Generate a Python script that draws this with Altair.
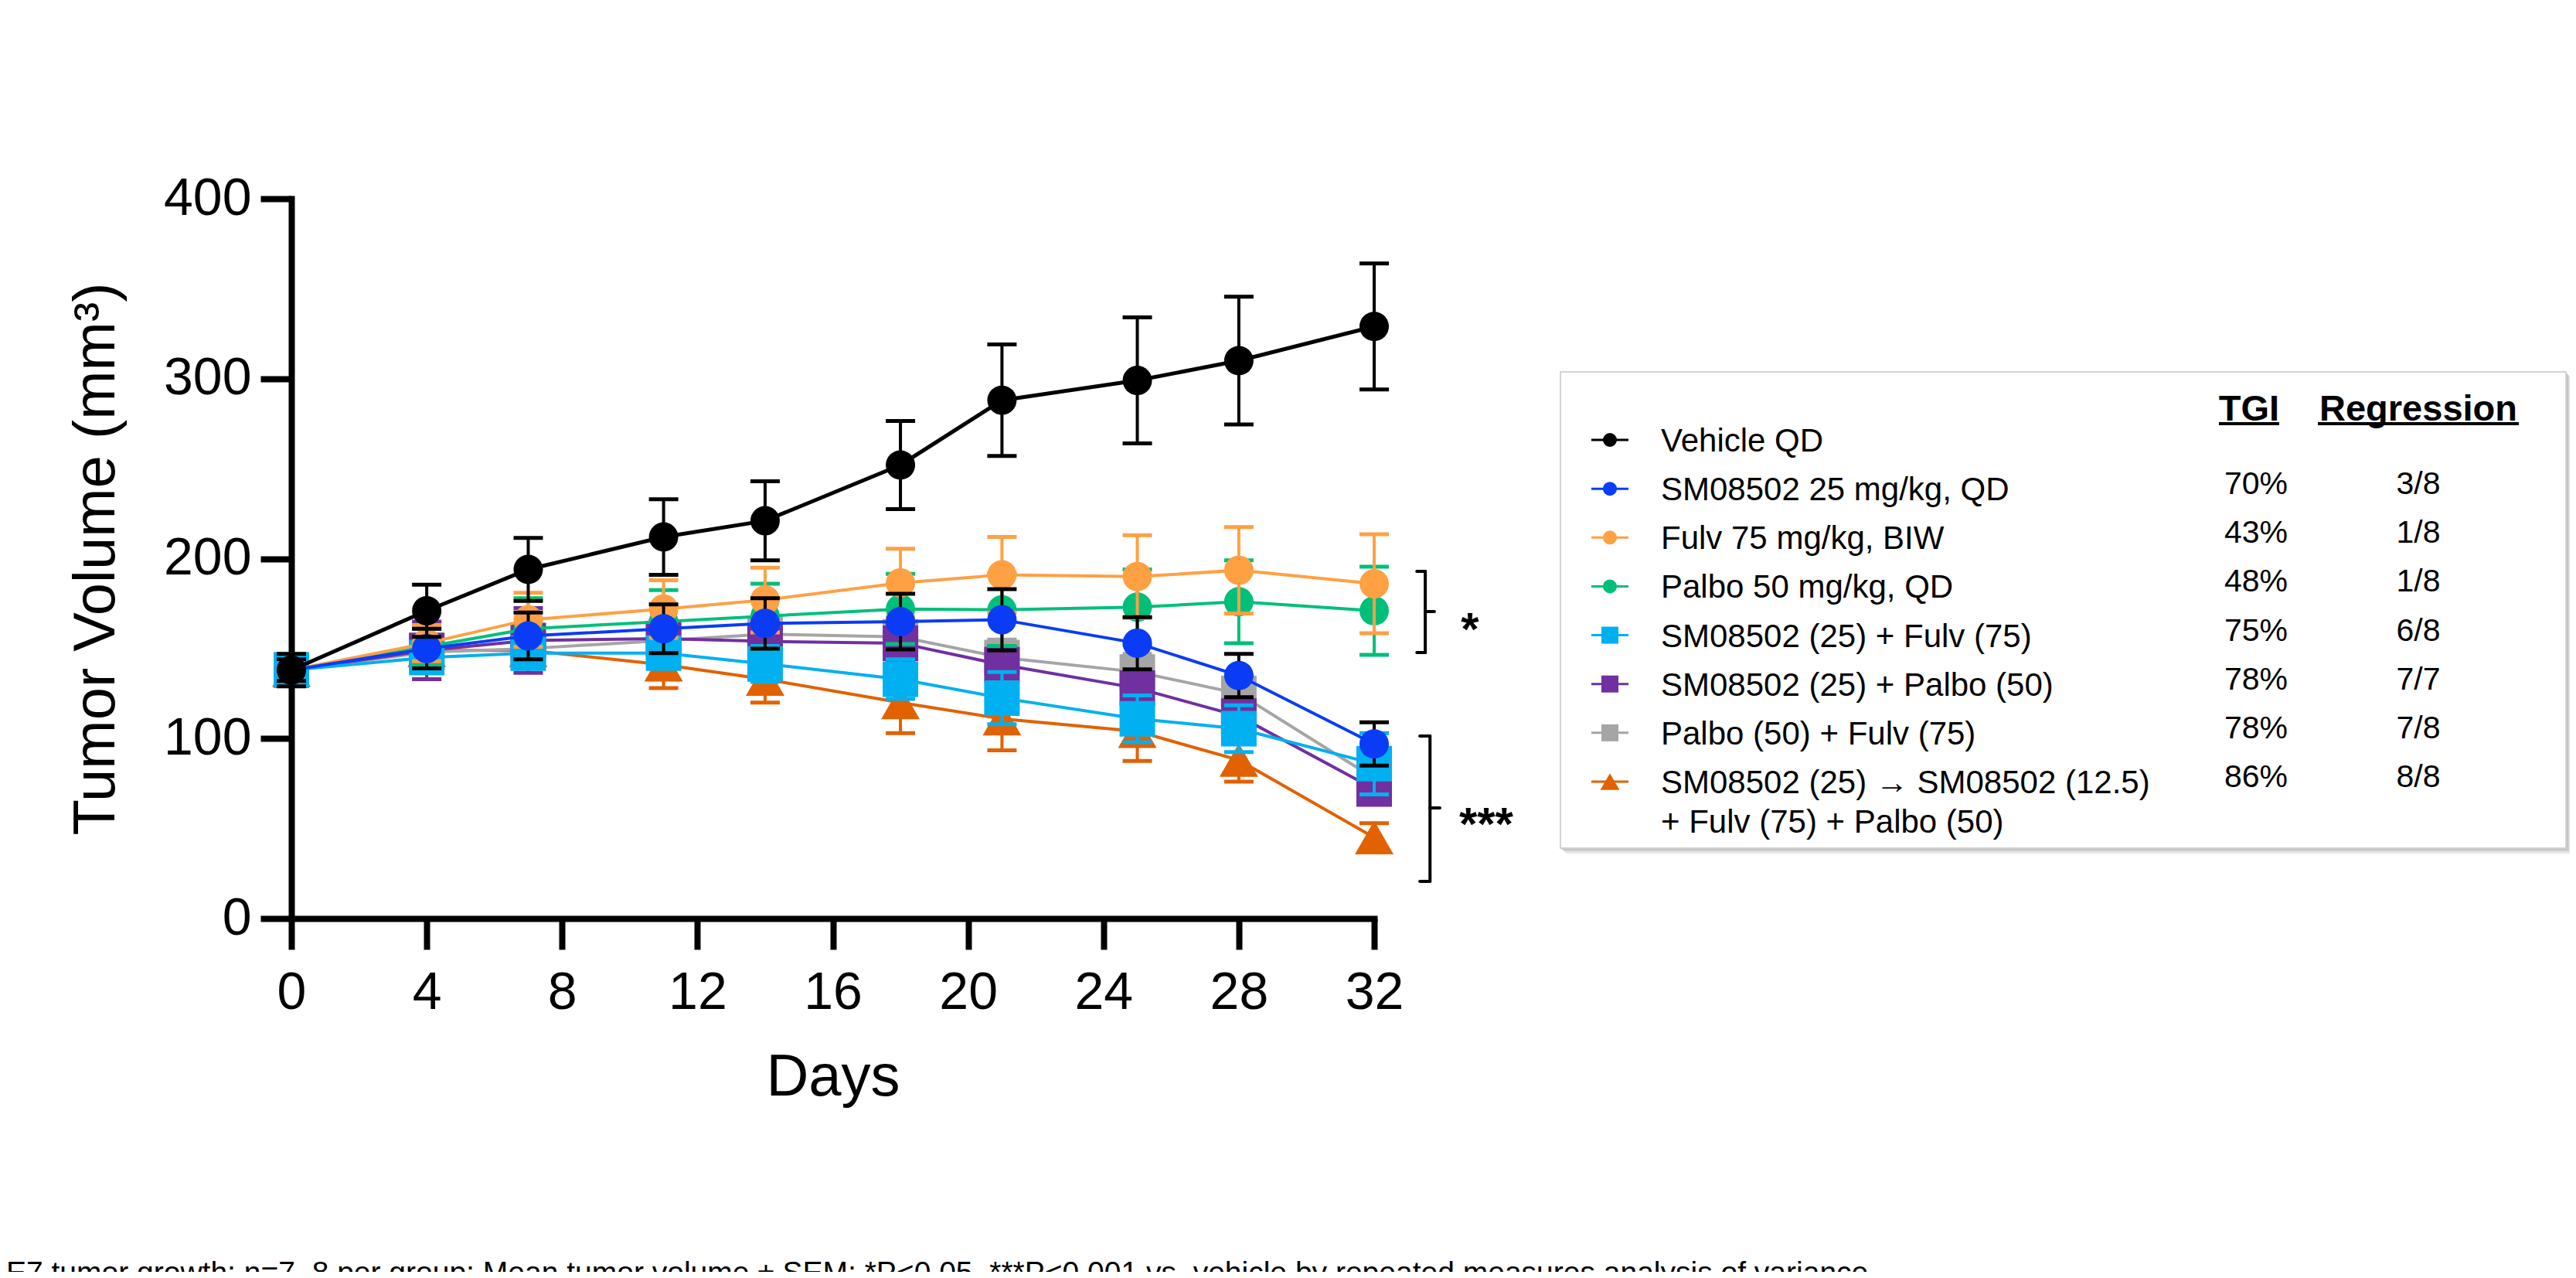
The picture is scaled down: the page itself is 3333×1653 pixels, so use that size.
import altair as alt
import pandas as pd

# ---------------- data ----------------
days = [0, 4, 7, 11, 14, 18, 21, 25, 28, 32]

groups = [
    "Vehicle QD",
    "SM08502 25 mg/kg, QD",
    "Fulv 75 mg/kg, BIW",
    "Palbo 50 mg/kg, QD",
    "SM08502 (25) + Fulv (75)",
    "SM08502 (25) + Palbo (50)",
    "Palbo (50) + Fulv (75)",
    "SM08502 (25) \u2192 SM08502 (12.5)\n+ Fulv (75) + Palbo (50)",
]
colors = ["#000000", "#0A3CF5", "#FFA043", "#00BF7A", "#00B0F0", "#7030A0", "#A5A5A5", "#E26100"]
err_colors = ["#000000", "#000000", "#FFA043", "#00BF7A", "#00B0F0", "#7030A0", "#A5A5A5", "#E26100"]
shapes = ["circle", "circle", "circle", "circle", "square", "square", "square", "triangle-up"]
tgi = ["", "70%", "43%", "48%", "75%", "78%", "78%", "86%"]
regression = ["", "3/8", "1/8", "1/8", "6/8", "7/7", "7/8", "8/8"]

mean_vehicle = [138, 171, 194, 212, 221, 252, 288, 299, 310, 329]
sem_vehicle = [9, 14.5, 17.5, 21, 22, 24.5, 31, 35, 35.5, 35]
mean_sm = [138, 150, 157, 161, 164, 165, 166, 153, 135, 97]
sem_sm = [6, 11, 13, 13.5, 14, 15.5, 17, 14.5, 12, 12]
mean_fulv = [138, 153, 166, 172, 177, 186.5, 191, 190, 193.5, 186]
sem_fulv = [6, 10, 15, 16, 18, 19, 21, 23, 24, 27.5]
mean_palbo = [138, 151, 161, 165, 168, 172, 171.5, 173, 176, 171]
sem_palbo = [6, 10, 17, 17.5, 18, 19.5, 20, 21, 23, 24.5]
mean_smfulv = [138, 145, 147.5, 147.5, 141.5, 133, 122.5, 111, 105.5, 86]
sem_smfulv = [6, 7, 8, 8, 10, 11, 14.5, 13, 13, 17]
mean_smpalbo = [138, 149, 154.5, 155.5, 154, 153, 141, 128, 112.5, 72]
sem_smpalbo = [6, 16, 18, 10, 10, 10, 10, 9, 9, 8]
mean_palbofulv = [138, 148, 150, 154.5, 158, 156.5, 145, 137, 125, 78]
sem_palbofulv = [6, 8, 9, 9, 10, 10, 10, 10, 10, 8]
mean_triple = [138, 149, 149, 141, 133, 120, 111, 104, 88, 45]
sem_triple = [6, 8, 9, 13, 13, 17, 17.5, 16.5, 12, 8]

means = [mean_vehicle, mean_sm, mean_fulv, mean_palbo, mean_smfulv, mean_smpalbo, mean_palbofulv, mean_triple]
sems = [sem_vehicle, sem_sm, sem_fulv, sem_palbo, sem_smfulv, sem_smpalbo, sem_palbofulv, sem_triple]

# significance brackets (in days / mm3)
bracket_labels = ["*", "***"]
bracket_day = [33.51, 33.65]
bracket_arm_day = [33.26, 33.35]
bracket_nub_day = [33.78, 33.94]
bracket_top = [192.9, 101.4]
bracket_bottom = [147.8, 20.6]
bracket_mid = [170.6, 61.4]
star_day = [34.83, 35.31]
star_value = [166.7, 58.4]

caption = ("E7 tumor growth; n=7\u20138 per group; Mean tumor volume \u00b1 SEM; "
           "*P<0.05, ***P<0.001 vs. vehicle by repeated measures analysis of variance")

# ---------------- tables ----------------
rows, cap_rows = [], []
for gi in range(len(groups)):
    for d, m, s in zip(days, means[gi], sems[gi]):
        rows.append(dict(gi=gi, day=d, mean=m, lo=m - s, hi=m + s))
        cap_rows.append(dict(gi=gi, day=d, cap=m - s))
        cap_rows.append(dict(gi=gi, day=d, cap=m + s))
df = pd.DataFrame(rows)
df_caps = pd.DataFrame(cap_rows)

seg_rows = []
for i in range(len(bracket_labels)):
    bx, arm, nub = bracket_day[i], bracket_arm_day[i], bracket_nub_day[i]
    top, bot, mid = bracket_top[i], bracket_bottom[i], bracket_mid[i]
    seg_rows += [
        dict(x=bx, x2=bx, y=top, y2=bot),
        dict(x=arm, x2=bx, y=top, y2=top),
        dict(x=arm, x2=bx, y=bot, y2=bot),
        dict(x=bx, x2=nub, y=mid, y2=mid),
    ]
df_seg = pd.DataFrame(seg_rows)
df_star = pd.DataFrame({"day": star_day, "value": star_value, "label": bracket_labels})

legend_df = pd.DataFrame({
    "row": list(range(len(groups))), "label": groups, "color": colors,
    "shape": shapes, "tgi": tgi, "reg": regression,
})

# ---------------- styles ----------------
FONT = "Liberation Sans"
x_scale = alt.Scale(domain=[0, 32], nice=False, zero=False)
y_scale = alt.Scale(domain=[0, 400], nice=False)

axis_common = dict(
    tickSize=40, tickWidth=8, tickColor="black", domainColor="black", domainWidth=8,
    domainCap="square", labelFontSize=68, labelColor="black", labelFont=FONT,
    labelFlush=False, labelOverlap=False, titleFontSize=76, titleFont=FONT,
    titleFontWeight="normal", titleColor="black", grid=False,
)
x_axis = alt.Axis(values=list(range(0, 33, 4)), title="Days", labelPadding=22,
                  titlePadding=38, **axis_common)
y_axis = alt.Axis(values=[0, 100, 200, 300, 400], title="Tumor Volume (mm\u00b3)",
                  labelPadding=12, titlePadding=48, **axis_common)


def X(field):
    return alt.X(f"{field}:Q", scale=x_scale, axis=x_axis)


def Y(field):
    return alt.Y(f"{field}:Q", scale=y_scale, axis=y_axis)


marker_size = {"circle": 1444, "square": 2116, "triangle-up": 2500}

# ---------------- main plot ----------------
main_layers = []
for gi in reversed(range(len(groups))):
    base = alt.Chart(df).transform_filter(alt.datum.gi == gi)
    lw = 5 if gi == 0 else 4
    main_layers.append(
        base.mark_line(color=colors[gi], strokeWidth=lw).encode(x=X("day"), y=Y("mean"))
    )
    main_layers.append(
        base.mark_rule(color=err_colors[gi], strokeWidth=4).encode(x=X("day"), y=Y("lo"), y2="hi:Q")
    )
    main_layers.append(
        alt.Chart(df_caps).transform_filter(alt.datum.gi == gi)
        .mark_tick(orient="horizontal", size=38, thickness=5, color=err_colors[gi], opacity=1)
        .encode(x=X("day"), y=Y("cap"))
    )
    main_layers.append(
        base.mark_point(shape=shapes[gi], size=marker_size[shapes[gi]], filled=True,
                        opacity=1, color=colors[gi], strokeWidth=0)
        .encode(x=X("day"), y=Y("mean"))
    )

brackets = alt.Chart(df_seg).mark_rule(strokeWidth=4, color="black", strokeCap="round").encode(
    x=X("x"), x2="x2:Q", y=Y("y"), y2="y2:Q"
)
stars = alt.Chart(df_star).mark_text(
    fontSize=60, fontWeight="bold", font=FONT, color="black", baseline="middle", dy=16
).encode(x=X("day"), y=Y("value"), text="label:N")

main = alt.layer(*main_layers, brackets, stars)

# ---------------- legend table ----------------
one = pd.DataFrame({"k": [0]})
row_y = alt.Y("row:Q", scale=alt.Scale(domain=[0, 7], range=[312, 754], nice=False, zero=False), axis=None)
BOX_L, BOX_R, BOX_T, BOX_B = 1642, 2943, 224, 840

legend_layers = []
for off, col in [(8, "#f2f2f2"), (6, "#e3e3e3"), (4, "#d0d0d0"), (2, "#bcbcbc")]:
    legend_layers.append(
        alt.Chart(one).mark_rect(color=col).encode(
            x=alt.value(BOX_L + off), x2=alt.value(BOX_R + off),
            y=alt.value(BOX_T + off), y2=alt.value(BOX_B + off))
    )
legend_layers.append(
    alt.Chart(one).mark_rect(fill="white", stroke="#d4d4d4", strokeWidth=2).encode(
        x=alt.value(BOX_L), x2=alt.value(BOX_R), y=alt.value(BOX_T), y2=alt.value(BOX_B))
)
legend_layers.append(
    alt.Chart(legend_df).mark_rule(strokeWidth=3).encode(
        x=alt.value(1682), x2=alt.value(1730), y=row_y, color=alt.Color("color:N", scale=None))
)
for shp, sz in [("circle", 324), ("square", 484), ("triangle-up", 625)]:
    legend_layers.append(
        alt.Chart(legend_df).transform_filter(alt.datum.shape == shp)
        .mark_point(shape=shp, size=sz, filled=True, opacity=1, strokeWidth=0)
        .encode(x=alt.value(1706), y=row_y, color=alt.Color("color:N", scale=None))
    )
legend_layers.append(
    alt.Chart(legend_df).mark_text(
        align="left", baseline="alphabetic", dy=15, fontSize=42, lineHeight=51,
        lineBreak="\n", font=FONT, color="black"
    ).encode(x=alt.value(1772), y=row_y, text="label:N")
)
legend_layers.append(
    alt.Chart(legend_df).mark_text(
        align="center", baseline="alphabetic", dy=7, fontSize=41, font=FONT, color="black"
    ).encode(x=alt.value(2542), y=row_y, text="tgi:N")
)
legend_layers.append(
    alt.Chart(legend_df).mark_text(
        align="center", baseline="alphabetic", dy=7, fontSize=41, font=FONT, color="black"
    ).encode(x=alt.value(2752), y=row_y, text="reg:N")
)
header_df = pd.DataFrame({"h": ["TGI", "Regression"]})
for name, cx, ux1, ux2 in [("TGI", 2533, 2494, 2572), ("Regression", 2752, 2622, 2882)]:
    legend_layers.append(
        alt.Chart(header_df).transform_filter(alt.datum.h == name).mark_text(
            align="center", baseline="alphabetic", fontSize=47, fontWeight="bold",
            font=FONT, color="black"
        ).encode(x=alt.value(cx), y=alt.value(287), text="h:N")
    )
    legend_layers.append(
        alt.Chart(one).mark_rule(strokeWidth=4, color="black").encode(
            x=alt.value(ux1), x2=alt.value(ux2), y=alt.value(291))
    )

legend = alt.layer(*legend_layers)

chart = alt.layer(main, legend).resolve_scale(y="independent").properties(
    width=1401,
    height=931,
    padding={"left": 369, "top": 249, "right": 1547, "bottom": 457},
    autosize=alt.AutoSizeParams(type="none"),
    title=alt.TitleParams(
        text=caption, orient="bottom", anchor="start", frame="group",
        fontSize=39, font=FONT, fontWeight="normal", color="black",
        dx=-369, offset=197,
    ),
).configure_view(stroke=None)

chart.save("out.html", embed_options={"renderer": "svg", "actions": False})
